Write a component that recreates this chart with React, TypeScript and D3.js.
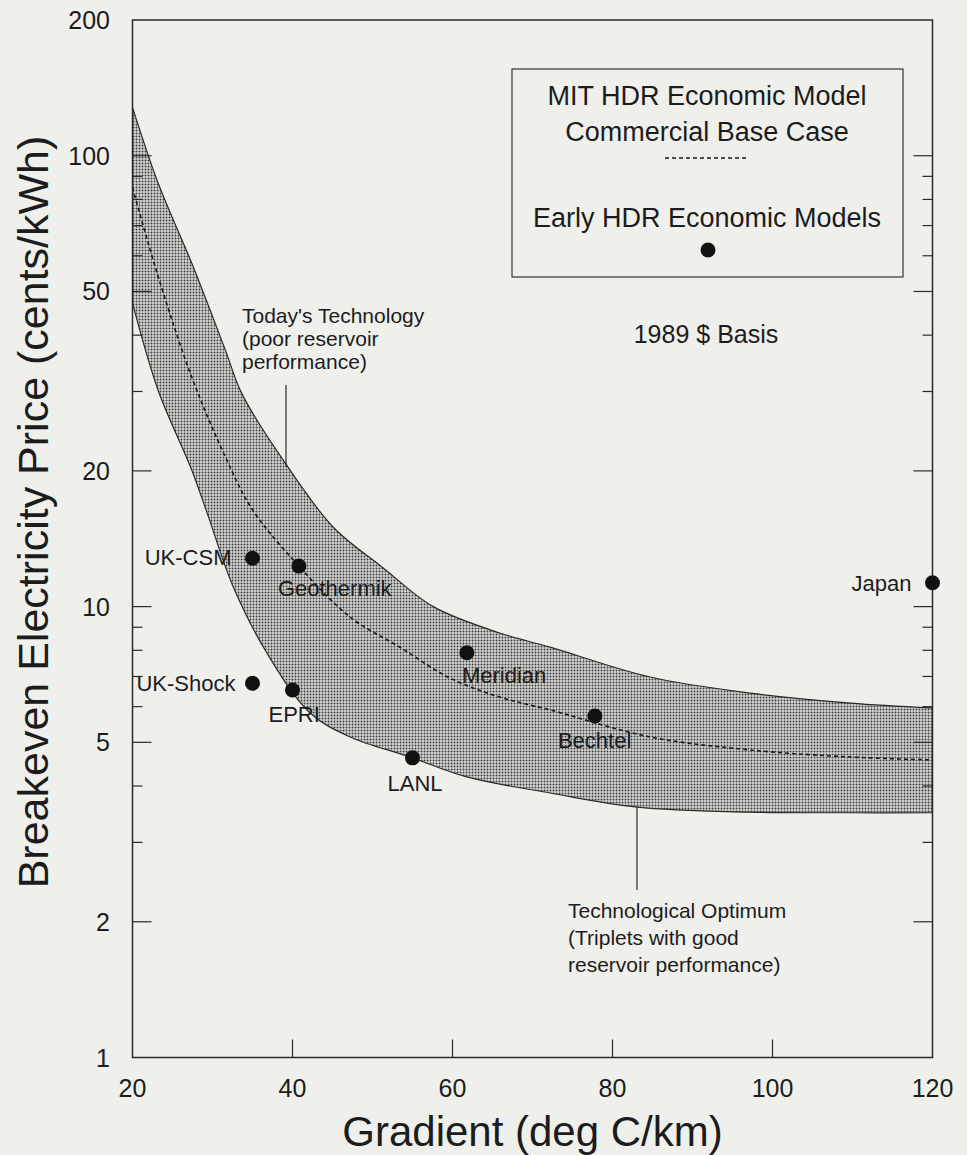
import React, { useEffect, useRef } from "react";
import * as d3 from "d3";

// axis ticks
const xTickValues = [20, 40, 60, 80, 100, 120];
const yTickLabels = [1, 2, 5, 10, 20, 50, 100, 200];

// band edges: [gradient, cents/kWh]
const todaysTechnology: [number, number][] = [
  [20, 128], [23.2, 87], [27.4, 57.8], [31.6, 37.1], [33.7, 29.6],
  [39.1, 20.8], [45.1, 15.0], [51.3, 12.2], [57.6, 10.0], [65.9, 8.74],
  [72.2, 8.13], [84.7, 6.98], [97.2, 6.43], [109.7, 6.11], [120, 5.96],
];
const technologicalOptimum: [number, number][] = [
  [20, 47.1], [23.2, 30.2], [27.4, 20.1], [29.4, 16.0], [32.6, 11.05],
  [36.8, 7.89], [42.2, 5.81], [47.2, 5.14], [54.7, 4.64], [61.8, 4.19],
  [72.2, 3.86], [83.1, 3.59], [97.2, 3.5], [109.7, 3.49], [120, 3.49],
];
const commercialBaseCase: [number, number][] = [
  [20, 85], [23.2, 54], [27.4, 32.3], [31.6, 21.5], [35, 16.4],
  [40.8, 12.3], [47.2, 9.48], [53.4, 8.13], [59.7, 6.94], [65.9, 6.3],
  [72.2, 5.9], [84.7, 5.14], [97.2, 4.81], [109.7, 4.64], [120, 4.57],
];

// early HDR economic models
const modelNames = ["UK-CSM", "Geothermik", "UK-Shock", "EPRI", "LANL", "Meridian", "Bechtel", "Japan"];
const modelGradient = [35, 40.8, 35, 40, 55, 61.8, 77.8, 120];
const modelPrice = [12.8, 12.3, 6.76, 6.53, 4.62, 7.9, 5.72, 11.3];

// label placement relative to the dot
const labelPlace: Record<string, { dx: number; dy: number; anchor: string }> = {
  "UK-CSM": { dx: -21, dy: 7, anchor: "end" },
  Geothermik: { dx: -21, dy: 30, anchor: "start" },
  "UK-Shock": { dx: -17, dy: 8, anchor: "end" },
  EPRI: { dx: -24, dy: 32, anchor: "start" },
  LANL: { dx: -25, dy: 33, anchor: "start" },
  Meridian: { dx: -5, dy: 30, anchor: "start" },
  Bechtel: { dx: -37, dy: 32, anchor: "start" },
  Japan: { dx: -21, dy: 8, anchor: "end" },
};

const W = 967, H = 1155;
const FONT = "'Liberation Sans', Arial, Helvetica, sans-serif";
const INK = "#1c1c1c";

export default function App() {
  const ref = useRef<SVGSVGElement>(null);

  useEffect(() => {
    const svg = d3.select(ref.current);
    svg.selectAll("*").remove();

    const x = d3.scaleLinear().domain([20, 120]).range([132.5, 932.5]);
    const y = d3.scaleLog().domain([1, 200]).range([1057.5, 20]);

    svg.append("rect").attr("width", W).attr("height", H).attr("fill", "#efefec");

    const defs = svg.append("defs");
    const pat = defs.append("pattern").attr("id", "dots")
      .attr("width", 3).attr("height", 3).attr("patternUnits", "userSpaceOnUse");
    pat.append("rect").attr("width", 3).attr("height", 3).attr("fill", "#d4d4d2");
    pat.append("circle").attr("cx", 1.5).attr("cy", 1.5).attr("r", 0.95).attr("fill", "#3a3a3a");

    const line = d3.line<[number, number]>()
      .x((d) => x(d[0])).y((d) => y(d[1]))
      .curve(d3.curveCatmullRom.alpha(0.5));

    // band
    const up = line(todaysTechnology) as string;
    const low = line(technologicalOptimum.slice().reverse()) as string;
    svg.append("path").attr("d", up + "L" + low.slice(1) + "Z")
      .attr("fill", "url(#dots)").attr("stroke", "none");
    [todaysTechnology, technologicalOptimum].forEach((edge) => {
      svg.append("path").attr("d", line(edge)).attr("fill", "none")
        .attr("stroke", "#2a2a2a").attr("stroke-width", 1.2);
    });
    svg.append("path").attr("d", line(commercialBaseCase)).attr("fill", "none")
      .attr("stroke", "#1a1a1a").attr("stroke-width", 1.6).attr("stroke-dasharray", "4,3");

    // frame
    svg.append("rect").attr("x", x(20)).attr("y", y(200))
      .attr("width", x(120) - x(20)).attr("height", y(1) - y(200))
      .attr("fill", "none").attr("stroke", "#2a2a2a").attr("stroke-width", 1.5);

    // y ticks on both sides
    const yMinor: number[] = [];
    [1, 10, 100].forEach((dec) => {
      for (let k = 1; k <= 9; k++) {
        const v = dec * k;
        if (v > 1 && v < 200) yMinor.push(v);
      }
    });
    yMinor.forEach((v) => {
      const len = yTickLabels.includes(v) ? 19 : 10;
      svg.append("line").attr("x1", x(20)).attr("x2", x(20) + len)
        .attr("y1", y(v)).attr("y2", y(v)).attr("stroke", "#2a2a2a").attr("stroke-width", 1.2);
      svg.append("line").attr("x1", x(120)).attr("x2", x(120) - len)
        .attr("y1", y(v)).attr("y2", y(v)).attr("stroke", "#2a2a2a").attr("stroke-width", 1.2);
    });
    xTickValues.filter((v) => v > 20 && v < 120).forEach((v) => {
      svg.append("line").attr("x1", x(v)).attr("x2", x(v))
        .attr("y1", y(1)).attr("y2", y(1) - 18).attr("stroke", "#2a2a2a").attr("stroke-width", 1.2);
    });

    // tick labels
    svg.append("g").selectAll("text").data(yTickLabels).join("text")
      .attr("x", 110).attr("y", (d) => y(d) + 9)
      .attr("text-anchor", "end").attr("font-size", 25).attr("font-family", FONT).attr("fill", INK)
      .text((d) => d);
    svg.append("g").selectAll("text").data(xTickValues).join("text")
      .attr("x", (d) => x(d)).attr("y", 1097)
      .attr("text-anchor", "middle").attr("font-size", 25).attr("font-family", FONT).attr("fill", INK)
      .text((d) => d);

    // axis titles
    svg.append("text").attr("x", (x(20) + x(120)) / 2).attr("y", 1146)
      .attr("text-anchor", "middle").attr("font-size", 42).attr("font-family", FONT).attr("fill", INK)
      .text("Gradient (deg C/km)");
    svg.append("text").attr("transform", "translate(48,512) rotate(-90)")
      .attr("text-anchor", "middle").attr("font-size", 43).attr("font-family", FONT).attr("fill", INK)
      .text("Breakeven Electricity Price (cents/kWh)");

    // annotations with leader lines
    const note = (lines: string[], x0: number, y0: number, step: number) => {
      lines.forEach((t, i) => {
        svg.append("text").attr("x", x0).attr("y", y0 + i * step)
          .attr("font-size", 21).attr("font-family", FONT).attr("fill", INK).text(t);
      });
    };
    note(["Today's Technology", "(poor reservoir", "performance)"], 242, 323, 23);
    svg.append("line").attr("x1", 286).attr("x2", 286).attr("y1", 385).attr("y2", 467)
      .attr("stroke", "#2a2a2a").attr("stroke-width", 1.2);
    note(["Technological Optimum", "(Triplets with good", "reservoir performance)"], 568, 918, 27);
    svg.append("line").attr("x1", 637).attr("x2", 637).attr("y1", 807).attr("y2", 890)
      .attr("stroke", "#2a2a2a").attr("stroke-width", 1.2);
    svg.append("text").attr("x", 706).attr("y", 343).attr("text-anchor", "middle")
      .attr("font-size", 25).attr("font-family", FONT).attr("fill", INK).text("1989 $ Basis");

    // model points
    const pts = modelNames.map((n, i) => ({ name: n, gx: modelGradient[i], p: modelPrice[i] }));
    svg.append("g").selectAll("circle").data(pts).join("circle")
      .attr("cx", (d) => x(d.gx)).attr("cy", (d) => y(d.p)).attr("r", 7.5).attr("fill", "#111");
    svg.append("g").selectAll("text").data(pts).join("text")
      .attr("x", (d) => x(d.gx) + labelPlace[d.name].dx)
      .attr("y", (d) => y(d.p) + labelPlace[d.name].dy)
      .attr("text-anchor", (d) => labelPlace[d.name].anchor)
      .attr("font-size", 22).attr("font-family", FONT).attr("fill", INK)
      .text((d) => d.name);

    // legend
    const lg = svg.append("g");
    lg.append("rect").attr("x", 512).attr("y", 69).attr("width", 391).attr("height", 208)
      .attr("fill", "none").attr("stroke", "#333").attr("stroke-width", 1.2);
    [["MIT HDR Economic Model", 105], ["Commercial Base Case", 141], ["Early HDR Economic Models", 227]]
      .forEach(([t, yy]) => {
        lg.append("text").attr("x", 707).attr("y", yy as number).attr("text-anchor", "middle")
          .attr("font-size", 27).attr("font-family", FONT).attr("fill", INK).text(t as string);
      });
    lg.append("line").attr("x1", 665).attr("x2", 749).attr("y1", 158).attr("y2", 158)
      .attr("stroke", "#1a1a1a").attr("stroke-width", 1.4).attr("stroke-dasharray", "4,3");
    lg.append("circle").attr("cx", 708).attr("cy", 250).attr("r", 7.5).attr("fill", "#111");
  }, []);

  return (
    <svg ref={ref} width={W} height={H}
      style={{ position: "absolute", left: 0, top: 0, display: "block" }} />
  );
}
